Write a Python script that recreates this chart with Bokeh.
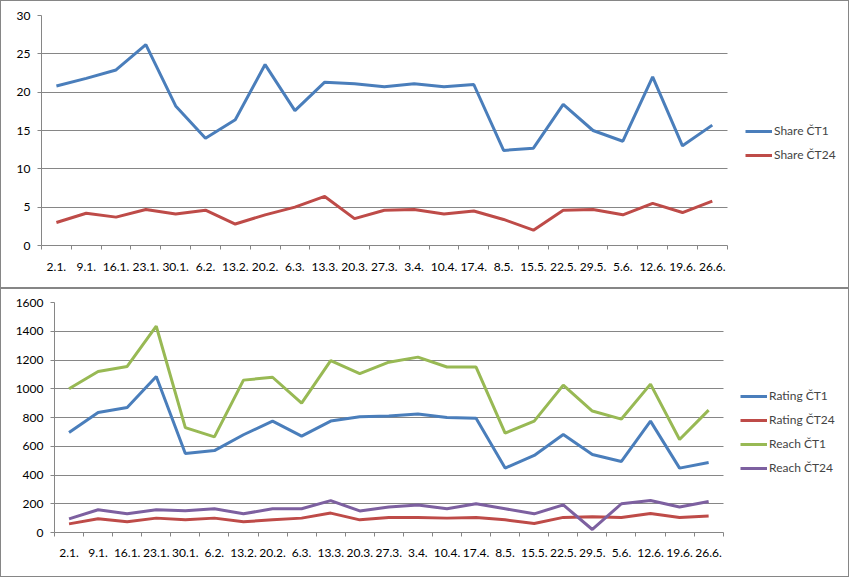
from bokeh.plotting import figure
from bokeh.models import (Range1d, LinearAxis, FixedTicker,
                          SingleIntervalTicker, Legend, LegendItem, ColumnDataSource)
from bokeh.embed import file_html
from bokeh.resources import INLINE

dates = ["2.1.", "9.1.", "16.1.", "23.1.", "30.1.", "6.2.", "13.2.", "20.2.", "6.3.", "13.3.",
         "20.3.", "27.3.", "3.4.", "10.4.", "17.4.", "8.5.", "15.5.", "22.5.", "29.5.", "5.6.",
         "12.6.", "19.6.", "26.6."]

share_ct1 = [20.8, 21.8, 22.9, 26.2, 18.2, 14.0, 16.4, 23.6, 17.6, 21.3, 21.1, 20.7,
             21.1, 20.7, 21.0, 12.4, 12.7, 18.4, 15.0, 13.6, 22.0, 13.0, 15.7]
share_ct24 = [3.0, 4.2, 3.7, 4.7, 4.1, 4.6, 2.8, 4.0, 5.0, 6.4, 3.5, 4.6,
              4.7, 4.1, 4.5, 3.4, 2.0, 4.6, 4.7, 4.0, 5.5, 4.3, 5.8]

rating_ct1 = [695, 835, 870, 1085, 550, 570, 680, 775, 670, 775, 805, 810,
              825, 800, 795, 448, 536, 682, 543, 494, 775, 448, 487]
rating_ct24 = [60, 95, 75, 100, 88, 100, 75, 88, 100, 135, 88, 105,
               105, 100, 105, 88, 63, 105, 110, 105, 132, 105, 115]
reach_ct1 = [1000, 1120, 1155, 1435, 730, 665, 1060, 1080, 900, 1195, 1105, 1185,
             1220, 1151, 1151, 691, 775, 1025, 845, 789, 1032, 647, 851]
reach_ct24 = [95, 158, 130, 158, 152, 165, 130, 165, 165, 222, 150, 178,
              192, 165, 200, 165, 130, 192, 21, 200, 223, 178, 215]

FONT = "Lato"
FS = "12px"
GRID = "#868686"
BLUE = "#4A7EBB"
RED = "#BE4B48"
GREEN = "#98B954"
PURPLE = "#7D60A0"
LW = 3
W = 849
CW = W - 2   # canvas width inside the 1px border

n = len(dates)
centers = [i + 0.5 for i in range(n)]          # category slots (points mid-slot)
bounds = list(range(n + 1))                      # category boundaries for tick marks

src = ColumnDataSource(dict(x=centers, s1=share_ct1, s24=share_ct24, r1=rating_ct1,
                            r24=rating_ct24, re1=reach_ct1, re24=reach_ct24))


def make_fig(h, ymax, yint, left, plot_right, top, bottom, xstand):
    # frame spans the full width (legend lives inside it); data occupies [0, n]
    xmax = n * (CW - left) / (plot_right - left)
    p = figure(width=W, height=h, x_range=Range1d(0, xmax),
               y_range=Range1d(0, ymax), output_backend="svg", toolbar_location=None,
               x_axis_location=None, y_axis_location=None,
               min_border_left=left, min_border_right=0, min_border_top=top,
               min_border_bottom=bottom)
    p.styles = {"border": "1px solid #868686", "box-sizing": "border-box"}
    p.outline_line_color = None
    p.xgrid.visible = False

    ya = LinearAxis(ticker=SingleIntervalTicker(interval=yint))
    ya.axis_line_color = GRID
    ya.major_tick_line_color = GRID
    ya.major_tick_out = 4
    ya.major_tick_in = 0
    ya.minor_tick_line_color = None
    ya.major_label_standoff = 7
    ya.major_label_text_font = FONT
    ya.major_label_text_font_size = FS
    ya.major_label_text_color = "black"
    p.add_layout(ya, "left")

    xa = LinearAxis(ticker=FixedTicker(ticks=centers, minor_ticks=bounds),
                    major_label_overrides={c: d for c, d in zip(centers, dates)},
                    bounds=(0, n))
    xa.axis_line_color = GRID
    xa.major_tick_line_color = None
    xa.major_tick_out = 0
    xa.major_tick_in = 0
    xa.minor_tick_line_color = GRID
    xa.minor_tick_out = 4
    xa.minor_tick_in = 0
    xa.major_label_standoff = xstand
    xa.major_label_text_font = FONT
    xa.major_label_text_font_size = FS
    xa.major_label_text_color = "black"
    p.add_layout(xa, "below")

    p.ygrid.ticker = SingleIntervalTicker(interval=yint)
    p.ygrid.grid_line_color = GRID
    p.ygrid.grid_line_width = 1
    p.ygrid.cross_bounds = (0, n)
    return p


def make_legend(items, loc, spacing):
    return Legend(items=items, location=loc, padding=0, margin=0, spacing=spacing,
                  glyph_width=27, glyph_height=14, label_height=14, label_standoff=2,
                  label_text_font=FONT, label_text_font_size=FS,
                  border_line_color=None, background_fill_alpha=0)


p1 = make_fig(288, 30, 5, 40, 724, 14, 44, 13)
a = p1.line("x", "s1", source=src, line_color=BLUE, line_width=LW)
b = p1.line("x", "s24", source=src, line_color=RED, line_width=LW)
p1.add_layout(make_legend([LegendItem(label="Share ČT1", renderers=[a]),
                           LegendItem(label="Share ČT24", renderers=[b])], (704, 83), 9))

p2 = make_fig(289, 1600, 200, 53, 720, 13, 46, 12)
c = p2.line("x", "r1", source=src, line_color=BLUE, line_width=LW)
d = p2.line("x", "r24", source=src, line_color=RED, line_width=LW)
e = p2.line("x", "re1", source=src, line_color=GREEN, line_width=LW)
f = p2.line("x", "re24", source=src, line_color=PURPLE, line_width=LW)
p2.add_layout(make_legend([LegendItem(label="Rating ČT1", renderers=[c]),
                           LegendItem(label="Rating ČT24", renderers=[d]),
                           LegendItem(label="Reach ČT1", renderers=[e]),
                           LegendItem(label="Reach ČT24", renderers=[f])], (686, 57), 9))

open("out.html", "w").write(file_html([p1, p2], INLINE))
